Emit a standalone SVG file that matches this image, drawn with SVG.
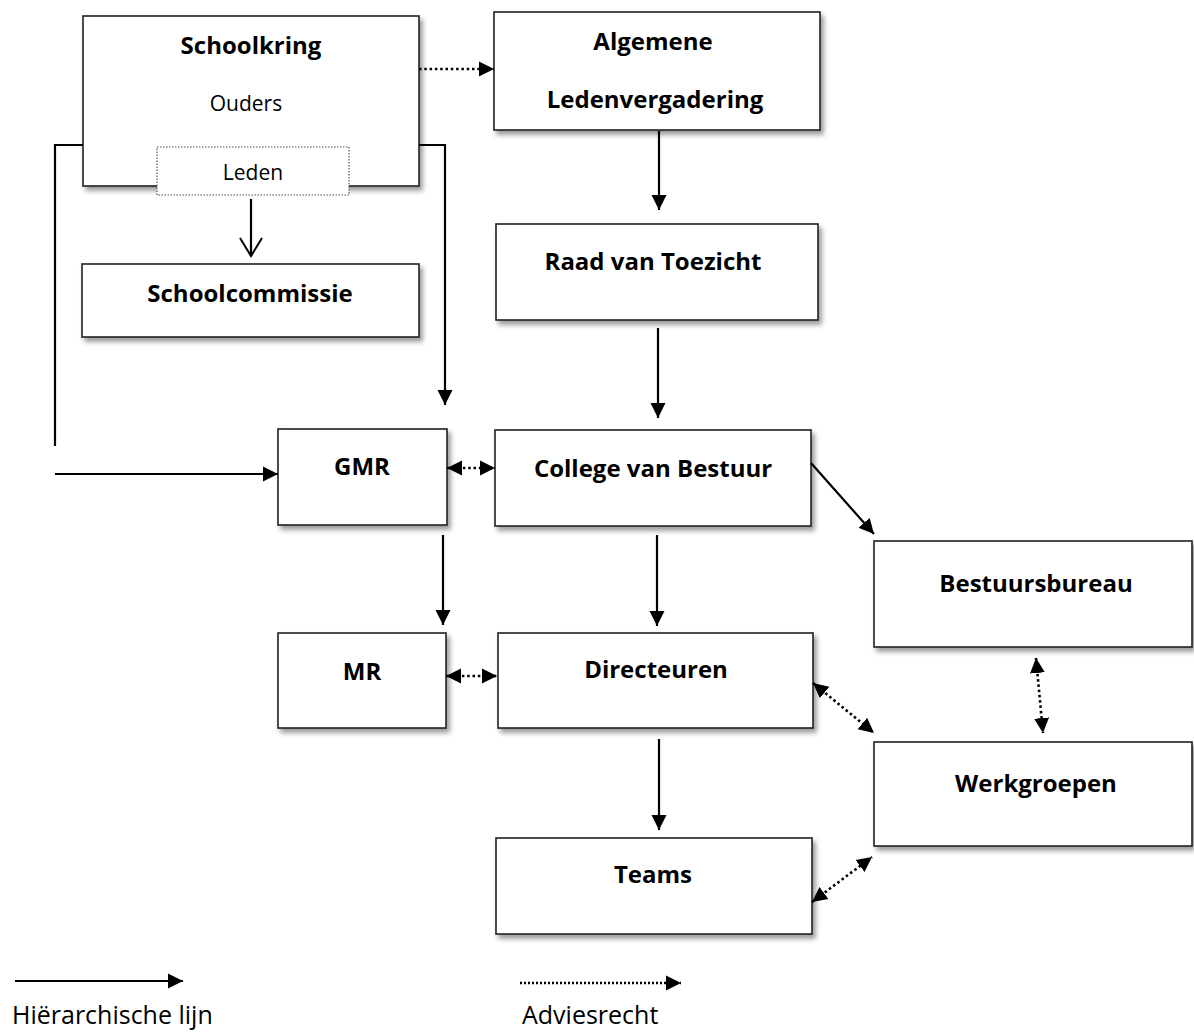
<svg xmlns="http://www.w3.org/2000/svg" width="1194" height="1033" viewBox="0 0 1194 1033">
<style>
.box{fill:#fff;stroke:#222;stroke-width:1.6;filter:url(#sh)}
.t{font-family:"Open Sans","Liberation Sans",sans-serif;font-weight:bold;font-size:24px;text-anchor:middle;fill:#000}
.r{font-family:"Open Sans","Liberation Sans",sans-serif;font-size:21px;text-anchor:middle;fill:#000}
.lg{font-family:"Open Sans","Liberation Sans",sans-serif;font-size:25px;fill:#000}
.s{fill:none;stroke:#000;stroke-width:2.2}
.d{fill:none;stroke:#000;stroke-width:2.6;stroke-dasharray:2.5 2.8}
</style>
<defs>
<filter id="sh" x="-10%" y="-10%" width="130%" height="140%">
<feDropShadow dx="3" dy="4" stdDeviation="2.5" flood-color="#000" flood-opacity="0.4"/>
</filter>
<marker id="a" markerUnits="userSpaceOnUse" markerWidth="16" markerHeight="16" viewBox="0 0 16 16" refX="15" refY="8" orient="auto-start-reverse">
<path d="M0,0.5 L15,8 L0,15.5 z" fill="#000"/>
</marker>
<marker id="o" markerUnits="userSpaceOnUse" markerWidth="26" markerHeight="26" viewBox="0 0 26 26" refX="13" refY="20" orient="0">
<path d="M2,2 L13,20 L24,2" fill="none" stroke="#000" stroke-width="2"/>
</marker>
</defs>

<g id="schoolkring">
<rect class="box" x="83" y="16" width="336" height="170"/>
<text class="t" x="251" y="54">Schoolkring</text>
<text class="r" x="246" y="111">Ouders</text>
</g>
<g id="leden">
<rect x="157" y="147" width="192" height="48" fill="#fff" stroke="#555" stroke-width="1.2" stroke-dasharray="1.5 1.5"/>
<text class="r" x="253" y="180">Leden</text>
</g>
<g id="schoolcommissie">
<rect class="box" x="82" y="264" width="337" height="73"/>
<text class="t" x="250" y="302">Schoolcommissie</text>
</g>
<g id="alv">
<rect class="box" x="494" y="12" width="326" height="118"/>
<text class="t" x="653" y="50">Algemene</text>
<text class="t" x="655" y="108">Ledenvergadering</text>
</g>
<g id="rvt">
<rect class="box" x="496" y="224" width="322" height="96"/>
<text class="t" x="653" y="270">Raad van Toezicht</text>
</g>
<g id="cvb">
<rect class="box" x="495" y="430" width="316" height="96"/>
<text class="t" x="653" y="477">College van Bestuur</text>
</g>
<g id="gmr">
<rect class="box" x="278" y="429" width="169" height="96"/>
<text class="t" x="362" y="475">GMR</text>
</g>
<g id="mr">
<rect class="box" x="278" y="633" width="168" height="95"/>
<text class="t" x="362" y="680">MR</text>
</g>
<g id="directeuren">
<rect class="box" x="498" y="633" width="315" height="95"/>
<text class="t" x="656" y="678">Directeuren</text>
</g>
<g id="teams">
<rect class="box" x="496" y="838" width="316" height="96"/>
<text class="t" x="653" y="883">Teams</text>
</g>
<g id="bestuursbureau">
<rect class="box" x="874" y="541" width="318" height="106"/>
<text class="t" x="1036" y="592">Bestuursbureau</text>
</g>
<g id="werkgroepen">
<rect class="box" x="874" y="742" width="318" height="104"/>
<text class="t" x="1036" y="792">Werkgroepen</text>
</g>

<g id="connectors">
<path class="d" d="M419,69 L494,69" marker-end="url(#a)"/>
<path class="s" d="M659,131 L659,210" marker-end="url(#a)"/>
<path class="s" d="M658,328 L658,418" marker-end="url(#a)"/>
<path class="s" d="M657,535 L657,626" marker-end="url(#a)"/>
<path class="s" d="M659,739 L659,830" marker-end="url(#a)"/>
<path class="s" d="M443,535 L443,625" marker-end="url(#a)"/>
<path class="s" d="M419,145 L445,145 L445,405" marker-end="url(#a)"/>
<path class="s" d="M83,145 L55,145 L55,446"/>
<path class="s" d="M55,474 L278,474" stroke-width="2.6" marker-end="url(#a)"/>
<path class="s" d="M251,199 L251,256" marker-end="url(#o)"/>
<path class="d" d="M447,468 L495,468" marker-start="url(#a)" marker-end="url(#a)"/>
<path class="d" d="M446,676 L497,676" marker-start="url(#a)" marker-end="url(#a)"/>
<path class="s" d="M811,463 L874,534" marker-end="url(#a)"/>
<path class="d" d="M813,683 L874,733" marker-start="url(#a)" marker-end="url(#a)"/>
<path class="d" d="M1036,658 L1043,733" marker-start="url(#a)" marker-end="url(#a)"/>
<path class="d" d="M812,902 L872,857" marker-start="url(#a)" marker-end="url(#a)"/>
</g>

<g id="legend">
<path class="s" d="M15,981 L183,981" stroke-width="2.6" marker-end="url(#a)"/>
<path fill="none" stroke="#000" stroke-width="2.4" stroke-dasharray="2 2" d="M520,983 L681,983" marker-end="url(#a)"/>
<text class="lg" x="12" y="1024">Hiërarchische lijn</text>
<text class="lg" x="522" y="1024">Adviesrecht</text>
</g>
</svg>
